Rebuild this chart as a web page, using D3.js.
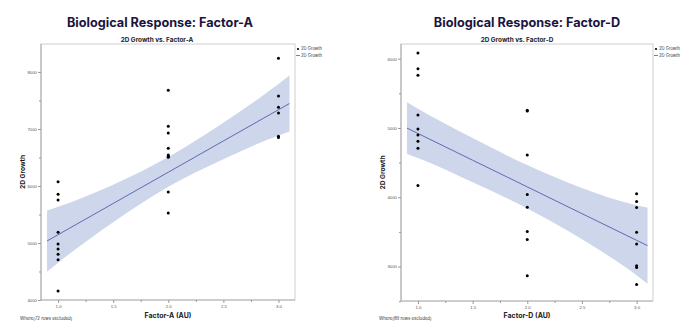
<!DOCTYPE html>
<html>
<head>
<meta charset="utf-8">
<script src="https://cdnjs.cloudflare.com/ajax/libs/d3/7.8.5/d3.min.js"></script>
<style>
  body { margin: 0; background: #fff; }
  svg { display: block; font-family: Inter, "Liberation Sans", Arial, sans-serif; }
  .tick text { fill: #555; font-size: 4.3px; }
  .tick line { stroke: #999; }
</style>
</head>
<body>
<div id="chart-area"></div>
<script>
// 2D growth readings per factor level
var factorA_x = [1,1,1,1,1,1,1,1,1, 2,2,2,2,2,2,2,2,2, 3,3,3,3,3,3];
var factorA_growth = [6076,5854,5754,5187,4982,4895,4801,4708,4159,
                      7678,7047,6930,6661,6544,6520,6503,5895,5526,
                      8240,7579,7380,7281,6871,6848];

var factorD_x = [1,1,1,1,1,1,1,1,1, 2,2,2,2,2,2,2,2, 3,3,3,3,3,3,3,3];
var factorD_growth = [6081,5854,5762,5188,4986,4899,4807,4706,4170,
                      5256,5246,4609,4040,3857,3505,3389,2868,
                      4050,3939,3852,3495,3326,3013,2988,2742];

// Fitted line with its confidence band
var fitX = [0.9, 1.0, 1.5, 2.0, 2.5, 3.0, 3.1];
var fitA_mid = [5035, 5145, 5693, 6241, 6789, 7337, 7446];
var fitA_hi  = [5570, 5635, 6023, 6510, 7109, 7787, 7936];
var fitA_lo  = [4500, 4655, 5363, 5985, 6469, 6887, 6956];
var fitD_mid = [4998, 4921, 4535, 4150, 3764, 3379, 3302];
var fitD_hi  = [5371, 5276, 4855, 4464, 4134, 3884, 3852];
var fitD_lo  = [4624, 4566, 4215, 3838, 3394, 2874, 2752];

var xTicks = [1.0, 1.5, 2.0, 2.5, 3.0];
var xMinor = [1.25, 1.75, 2.25, 2.75];

var svg = d3.select("#chart-area")
  .append("svg")
    .attr("width", 700)
    .attr("height", 332);

var panels = [
  { title: "Biological Response: Factor-A", sub: "2D Growth vs. Factor-A",
    xLabel: "Factor-A (AU)", note: "Where(72 rows excluded)",
    xs: factorA_x, ys: factorA_growth, mid: fitA_mid, hi: fitA_hi, lo: fitA_lo,
    left: 41, right: 295, top: 44, bottom: 300, yDomain: [4000, 8490],
    yTicks: [4000, 5000, 6000, 7000, 8000], yMinor: [4500, 5500, 6500, 7500],
    titleX: 160, subX: 157, yLabelX: 25, noteX: 20 },
  { title: "Biological Response: Factor-D", sub: "2D Growth vs. Factor-D",
    xLabel: "Factor-D (AU)", note: "Where(89 rows excluded)",
    xs: factorD_x, ys: factorD_growth, mid: fitD_mid, hi: fitD_hi, lo: fitD_lo,
    left: 401, right: 653, top: 44, bottom: 301, yDomain: [2503, 6212],
    yTicks: [3000, 4000, 5000, 6000], yMinor: [2500, 3500, 4500, 5500],
    titleX: 527, subX: 517, yLabelX: 385, noteX: 379 }
];

panels.forEach(function(p) {
  var x = d3.scaleLinear().domain([0.845, 3.15]).range([p.left, p.right]);
  var y = d3.scaleLinear().domain(p.yDomain).range([p.bottom, p.top]);
  var g = svg.append("g");

  // Titles
  g.append("text")
    .attr("x", p.titleX).attr("y", 27)
    .attr("text-anchor", "middle")
    .attr("font-size", "12.7px").attr("font-weight", 700)
    .attr("fill", "#1a1440")
    .text(p.title);
  g.append("text")
    .attr("x", p.subX).attr("y", 42)
    .attr("text-anchor", "middle")
    .attr("font-size", "6.4px").attr("font-weight", 700)
    .attr("fill", "#222")
    .text(p.sub);

  // Confidence band and fit line
  var band = d3.area()
    .x(function(d, i) { return x(fitX[i]); })
    .y0(function(d, i) { return y(p.lo[i]); })
    .y1(function(d, i) { return y(p.hi[i]); })
    .curve(d3.curveMonotoneX);
  g.append("path")
    .attr("d", band(fitX))
    .attr("fill", "#cdd6ea");
  var line = d3.line()
    .x(function(d, i) { return x(fitX[i]); })
    .y(function(d, i) { return y(p.mid[i]); });
  g.append("path")
    .attr("d", line(fitX))
    .attr("fill", "none")
    .attr("stroke", "#4f5fae")
    .attr("stroke-width", 0.9);

  // Points
  g.selectAll("circle.pt").data(p.ys).enter().append("circle")
    .attr("class", "pt")
    .attr("cx", function(d, i) { return x(p.xs[i]); })
    .attr("cy", function(d) { return y(d); })
    .attr("r", 1.5)
    .attr("fill", "#000");

  // Frame, with darker left and bottom edges
  g.append("rect")
    .attr("x", p.left).attr("y", p.top)
    .attr("width", p.right - p.left).attr("height", p.bottom - p.top)
    .attr("fill", "none")
    .attr("stroke", "#cfcfcf")
    .attr("stroke-width", 1);
  g.append("path")
    .attr("d", "M" + p.left + "," + p.top + "V" + p.bottom + "H" + p.right)
    .attr("fill", "none")
    .attr("stroke", "#b4b4b4")
    .attr("stroke-width", 1.2);

  // Axes
  g.append("g")
    .attr("transform", "translate(0," + p.bottom + ")")
    .call(d3.axisBottom(x).tickValues(xTicks).tickSize(3).tickPadding(2).tickFormat(d3.format(".1f")));
  g.append("g")
    .attr("transform", "translate(0," + p.bottom + ")")
    .call(d3.axisBottom(x).tickValues(xMinor).tickSize(2).tickFormat(""));
  g.append("g")
    .attr("transform", "translate(" + p.left + ",0)")
    .call(d3.axisLeft(y).tickValues(p.yTicks).tickSize(3).tickPadding(1).tickFormat(d3.format("d")));
  g.append("g")
    .attr("transform", "translate(" + p.left + ",0)")
    .call(d3.axisLeft(y).tickValues(p.yMinor).tickSize(2).tickFormat(""));
  g.selectAll(".domain").remove();

  // Axis labels
  g.append("text")
    .attr("x", (p.left + p.right) / 2).attr("y", 318)
    .attr("text-anchor", "middle")
    .attr("font-size", "7px").attr("font-weight", 700)
    .attr("fill", "#222")
    .text(p.xLabel);
  g.append("text")
    .attr("transform", "translate(" + p.yLabelX + "," + ((p.top + p.bottom) / 2) + ") rotate(-90)")
    .attr("text-anchor", "middle")
    .attr("font-size", "6.6px").attr("font-weight", 700)
    .attr("fill", "#1a1a1a")
    .text("2D Growth");
  g.append("text")
    .attr("x", p.noteX).attr("y", 320)
    .attr("font-size", "4.3px")
    .attr("fill", "#333")
    .text(p.note);

  // Legend
  var lg = g.append("g").attr("transform", "translate(" + (p.right + 1) + "," + (p.top + 5) + ")");
  lg.append("circle").attr("cx", 2).attr("cy", 0).attr("r", 1.1).attr("fill", "#000");
  lg.append("text").attr("x", 5).attr("y", 1.4).attr("font-size", "4.2px").attr("fill", "#333").text("2D Growth");
  lg.append("line").attr("x1", 0).attr("x2", 4).attr("y1", 6.5).attr("y2", 6.5)
    .attr("stroke", "#4f5fae").attr("stroke-width", 0.8);
  lg.append("text").attr("x", 5).attr("y", 7.9).attr("font-size", "4.2px").attr("fill", "#333").text("2D Growth");
});
</script>
</body>
</html>
